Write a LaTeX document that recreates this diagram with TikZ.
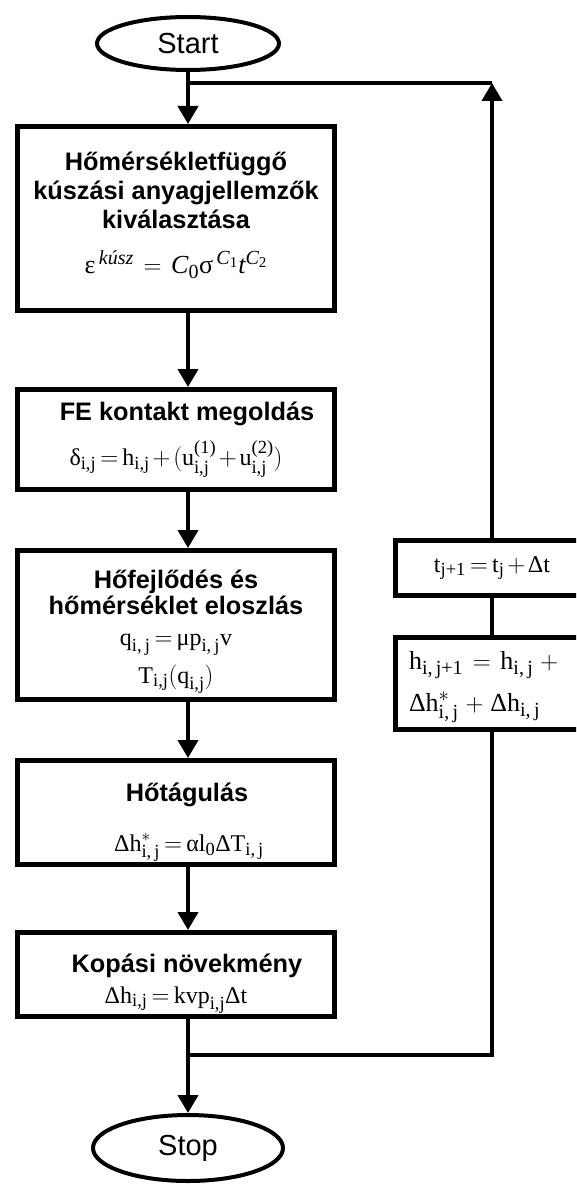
\documentclass[tikz,border=0pt]{standalone}
\usepackage{amsmath}
\usepackage{fontspec}
\setmainfont{Liberation Serif}
\newfontfamily\sansfont{Liberation Sans}
\usetikzlibrary{arrows.meta,shapes.geometric}
\DeclareMathSizes{24}{24}{18.5}{14}
\DeclareMathSizes{26}{26}{20}{15}
\thickmuskip=3mu
\medmuskip=2mu
\newcommand{\mr}[1]{\textnormal{#1}}
\newcommand{\mi}[1]{\textnormal{\itshape #1}}
\newcommand{\hd}{\sansfont\bfseries\fontsize{25.3}{29}\selectfont}
\newcommand{\up}[1]{\rule{0pt}{#1}}
\newcommand{\dn}[1]{\rule[-#1]{0pt}{0pt}}
\newcommand{\wm}{\thickmuskip=7mu\relax\medmuskip=5mu\relax}

\begin{document}
\begin{tikzpicture}[x=1pt,y=-1pt,>={Triangle[width=20pt,length=18pt]},
		line width=4pt]
		\tikzstyle{every node}=[font=\fontsize{24}{29}\selectfont]
		\tikzstyle{term}=[ellipse,draw,line width=4pt,inner sep=0pt,
		font=\sansfont\fontsize{29}{32}\selectfont]
		\tikzstyle{block}=[rectangle,draw,line width=5pt,minimum width=317pt,
		align=center,inner sep=0pt]
		\tikzstyle{side}=[rectangle,draw,line width=5pt,minimum width=193pt]
		\tikzstyle{back}=[line width=3.5pt]
		
		\useasboundingbox (0,0) rectangle (576,1185);
		\clip (0,0) rectangle (576,1185);
		
		\node[term,minimum width=182pt,minimum height=53pt] (start) at (188,43.5) {Start};
		\node[block,minimum height=184pt] (b1) at (176,218.5)
		{{\hd Hőmérsékletfüggő}\\{\hd kúszási anyagjellemzők}\\{\hd kiválasztása}\\[16pt]
			{\fontsize{26}{31}\selectfont$\wm\mr{ε}^{\,\mi{kúsz}}=\mi{C}_{\mr{0}}\mr{σ}^{\,\mi{C}_{\mr{1}}}\mi{t}^{\mi{C}_{\mr{2}}}$}\dn{12pt}};
		\node[block,minimum height=100pt] (b2) at (176,439.5)
		{\hspace*{22pt}{\hd FE kontakt megoldás}\\[14pt]
			$\mr{δ}_{\mr{i,j}}=\mr{h}_{\mr{i,j}}+(\mr{u}^{\mr{(1)}}_{\mr{i,j}}+\mr{u}^{\mr{(2)}}_{\mr{i,j}})$};
		\node[block,minimum height=149pt] (b3) at (176,625)
		{\up{31pt}{\hd Hőfejlődés és}\\[-3pt]{\hd hőmérséklet eloszlás}\\[2pt]
			$\mr{q}_{\mr{i,\,j}}=\mr{μp}_{\mr{i,\,j}}\mr{v}$\\[9pt]
			$\mr{T}_{\mr{i,j}}(\mr{q}_{\mr{i,j}})$};
		\node[block,minimum height=104pt] (b4) at (176,812.5)
		{\up{38pt}\hspace*{22pt}{\hd Hőtágulás}\\[21pt]
			\hspace*{26pt}$\mr{Δh}^{*}_{\mr{i,\,j}}=\mr{α}\mr{l}_{\mr{0}}\mr{ΔT}_{\mr{i,\,j}}$};
		\node[block,minimum height=84pt] (b5) at (176,974.5)
		{\up{36pt}\hspace*{22pt}{\hd Kopási növekmény}\\[2pt]
			$\mr{Δh}_{\mr{i,j}}=\mr{kvp}_{\mr{i,j}}\mr{Δt}$};
		\node[term,minimum width=190pt,minimum height=66pt] (stop) at (188,1148) {Stop};
		
		\node[side,minimum height=55pt] (tnext) at (492,568)
		{$\mr{t}_{\mr{j+1}}=\mr{t}_{\mr{j}}+\mr{Δt}$};
		\node[side,minimum height=92pt,text width=166pt,align=left,inner xsep=13.5pt,
		font=\fontsize{26}{31}\selectfont] (hnext) at (492,683.5)
		{\up{26pt}$\wm\mr{h}_{\mr{i,\,j+1}}=\mr{h}_{\mr{i,\,j}}+{}$\\[11pt]
			$\wm\mr{Δh}^{*}_{\mr{i,\,j}}+\mr{Δh}_{\mr{i,\,j}}$};
		
		\coordinate (topjoin) at (188,83);
		\coordinate (corner) at (492,83);
		\coordinate (botjoin) at (188,1055);
		
		\draw (start) -- (topjoin);
		\draw[->] (topjoin) -- (b1.north -| topjoin);
		\draw[->] (b1.south -| topjoin) -- (b2.north -| topjoin);
		\draw[->] (b2.south -| topjoin) -- (b3.north -| topjoin);
		\draw[->] (b3.south -| topjoin) -- (b4.north -| topjoin);
		\draw[->] (b4.south -| topjoin) -- (b5.north -| topjoin);
		\draw (b5.south -| botjoin) -- (botjoin);
		\draw[->] (botjoin) -- (stop);
		\draw[back] (botjoin) -| (hnext.south);
		\draw[back] (hnext) -- (tnext);
		\draw[back,->] (tnext) -- (corner);
		\draw[back] (corner) -- (topjoin);
\end{tikzpicture}
\end{document}
